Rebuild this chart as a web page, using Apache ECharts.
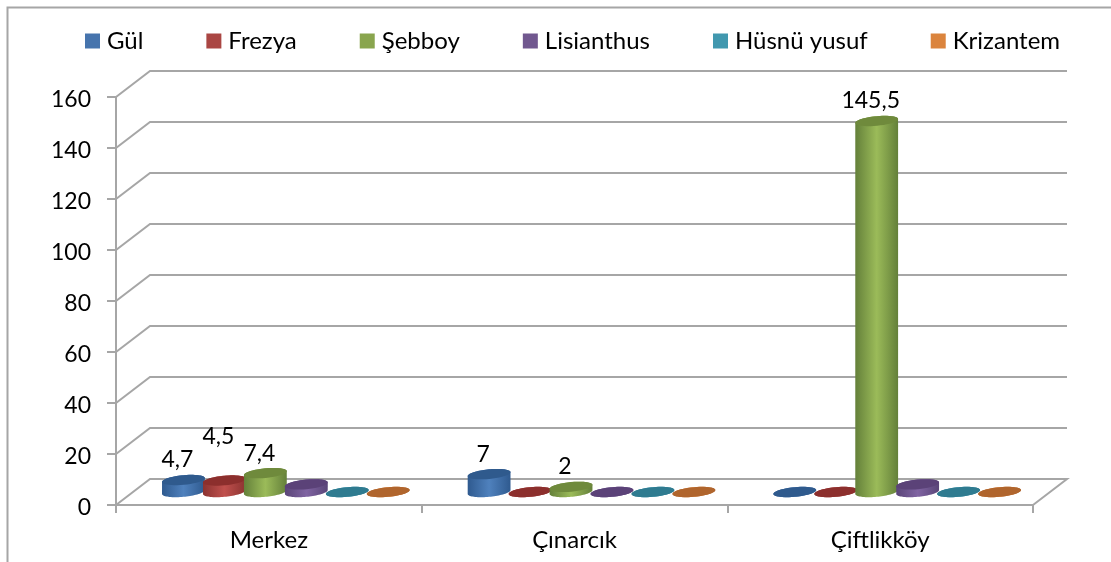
<!DOCTYPE html>
<html>
<head>
<meta charset="utf-8">
<style>
    html, body { margin: 0; padding: 0; background: #fff; }
    #chart { width: 1111px; height: 562px; }
</style>
</head>
<body>
<div id="chart"></div>
<script src="https://cdn.jsdelivr.net/npm/echarts@6/dist/echarts.min.js"></script>
<script>
    const categories = ['Merkez', 'Çınarcık', 'Çiftlikköy'];
    const flowers = ['Gül', 'Frezya', 'Şebboy', 'Lisianthus', 'Hüsnü yusuf', 'Krizantem'];
    const gul = [4.7, 7, 0];
    const frezya = [4.5, 0, 0];
    const sebboy = [7.4, 2, 145.5];
    const lisianthus = [3, 0, 3];
    const husnu = [0, 0, 0];
    const krizantem = [0, 0, 0];
    const yTicks = [0, 20, 40, 60, 80, 100, 120, 140, 160];

    const flowerValues = [gul, frezya, sebboy, lisianthus, husnu, krizantem];
    const legendColors = ['#4674ad', '#aa4643', '#89a54e', '#71588f', '#4198af', '#db843d'];
    const capColors = ['#2f5a8d', '#8c2f2d', '#6f8a3c', '#5b4278', '#2f7b90', '#b0652d'];
    const edgeColors = ['#2f5a8f', '#8c3331', '#64803a', '#5a4578', '#2b7388', '#a85f28'];
    const midColors = ['#4f81bd', '#c0504d', '#9bbb59', '#8064a2', '#4bacc6', '#f79646'];

    const gray = '#a6a6a6';
    const fontName = 'Lato';
    const depthX = 34;
    const depthY = -26;
    const barStep = 0.134;
    const capRx = 21.5;
    const capRy = 4.8;
    const capTilt = -5.5 * Math.PI / 180;

    // the Frezya label in Merkez sits higher than the others
    const labelLift = { '0-1': 24 };
    const noLabel = ['Lisianthus'];

    function ellipsePoint(cx, cy, t) {
        const x = capRx * Math.cos(t);
        const y = capRy * Math.sin(t);
        return [
            cx + x * Math.cos(capTilt) - y * Math.sin(capTilt),
            cy + x * Math.sin(capTilt) + y * Math.cos(capTilt)
        ];
    }

    function ellipseArc(cx, cy, from, to) {
        const pts = [];
        for (let i = 0; i <= 40; i++) {
            pts.push(ellipsePoint(cx, cy, from + (to - from) * i / 40));
        }
        return pts;
    }

    // back wall grid lines plus the left wall diagonals
    function renderWall(params, api) {
        const value = api.value(1);
        const band = api.size([1, 0])[0];
        const start = api.coord([0, value]);
        const left = start[0] - band / 2;
        const y = start[1];
        const right = left + band * categories.length;
        const pts = [[left, y], [left + depthX, y + depthY], [right + depthX, y + depthY]];
        if (value === 0) {
            pts.push([right, y]);
        }
        return {
            type: 'polyline',
            shape: { points: pts },
            style: { stroke: gray, lineWidth: 2, fill: null }
        };
    }

    function renderCylinder(params, api) {
        const s = params.seriesIndex - 1;
        const cat = api.value(0);
        const value = api.value(1);
        const band = api.size([1, 0])[0];
        const base = api.coord([cat, 0]);
        const top = api.coord([cat, value]);
        const cx = base[0] + depthX / 2 + (s - 2.5) * band * barStep;
        const baseY = base[1] + depthY / 2;
        const topY = top[1] + depthY / 2;
        const t0 = Math.atan2(-capRy * Math.sin(capTilt), capRx * Math.cos(capTilt));
        const body = ellipseArc(cx, baseY, t0, t0 + Math.PI)
            .concat(ellipseArc(cx, topY, t0 + Math.PI, t0 + 2 * Math.PI));
        const children = [{
            type: 'polygon',
            shape: { points: body },
            style: {
                fill: {
                    type: 'linear', x: 0, y: 0, x2: 1, y2: 0,
                    colorStops: [
                        { offset: 0, color: edgeColors[s] },
                        { offset: 0.5, color: midColors[s] },
                        { offset: 1, color: edgeColors[s] }
                    ]
                }
            }
        }, {
            type: 'polygon',
            shape: { points: ellipseArc(cx, topY, 0, 2 * Math.PI) },
            style: { fill: capColors[s] }
        }];
        if (value > 0 && noLabel.indexOf(flowers[s]) < 0) {
            const lift = labelLift[cat + '-' + s] || 0;
            children.push({
                type: 'text',
                z2: 10,
                style: {
                    x: cx - 6,
                    y: topY - 20 - lift,
                    text: String(value).replace('.', ','),
                    fill: '#000',
                    font: '23px ' + fontName,
                    align: 'center',
                    verticalAlign: 'middle'
                }
            });
        }
        return { type: 'group', children: children };
    }

    const chart = echarts.init(document.getElementById('chart'));

    const series = [{
        type: 'custom',
        renderItem: renderWall,
        silent: true,
        z: 1,
        encode: { x: 0, y: 1 },
        data: yTicks.map(v => [0, v])
    }];
    flowers.forEach((name, i) => {
        series.push({
            name: name,
            type: 'custom',
            renderItem: renderCylinder,
            z: 2 + i,
            itemStyle: { color: legendColors[i] },
            encode: { x: 0, y: 1 },
            data: flowerValues[i].map((v, c) => [c, v])
        });
    });

    chart.setOption({
        animation: false,
        backgroundColor: '#fff',
        textStyle: { fontFamily: fontName },
        graphic: [{
            type: 'polyline',
            silent: true,
            shape: { points: [[7.5, 562], [7.5, 7.5], [1111, 7.5]] },
            style: { stroke: gray, lineWidth: 2, fill: null }
        }],
        legend: {
            data: flowers,
            icon: 'rect',
            left: 80,
            top: 24,
            itemWidth: 15,
            itemHeight: 15,
            itemGap: 63,
            textStyle: { fontFamily: fontName, fontSize: 24, color: '#000', padding: [0, 0, 0, 2] }
        },
        grid: { left: 116, right: 78, top: 97, bottom: 57, containLabel: false },
        xAxis: {
            type: 'category',
            data: categories,
            axisLine: { lineStyle: { color: gray, width: 2 } },
            axisTick: { show: true, length: 8, alignWithLabel: false, lineStyle: { color: gray, width: 2 } },
            axisLabel: { color: '#000', fontFamily: fontName, fontSize: 24, margin: 23 },
            splitLine: { show: false }
        },
        yAxis: {
            type: 'value',
            min: 0,
            max: 160,
            interval: 20,
            axisLine: { show: true, lineStyle: { color: gray, width: 2 } },
            axisTick: { show: true, length: 9, lineStyle: { color: gray, width: 2 } },
            axisLabel: {
                margin: 25,
                formatter: '{v|{value}}',
                rich: {
                    v: { color: '#000', fontFamily: fontName, fontSize: 23, lineHeight: 29, verticalAlign: 'bottom' }
                }
            },
            splitLine: { show: false }
        },
        series: series
    });
</script>
</body>
</html>
